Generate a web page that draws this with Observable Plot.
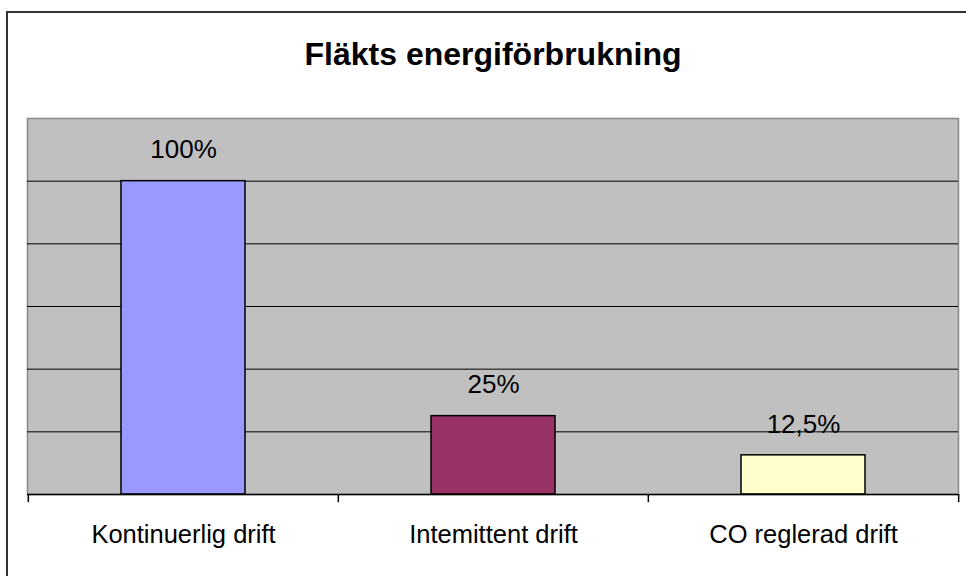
<!DOCTYPE html>
<html>
<head>
<meta charset="utf-8">
<script src="https://cdn.jsdelivr.net/npm/d3@7"></script>
<script src="https://cdn.jsdelivr.net/npm/@observablehq/plot@0.6"></script>
<style>
  html, body { margin: 0; padding: 0; background: #fff; overflow: hidden; }
  #wrap { position: relative; width: 966px; height: 576px; overflow: hidden; }
  #border { position: absolute; left: 6px; top: 11px; width: 2000px; height: 2000px;
            border-left: 2px solid #333; border-top: 2px solid #333; pointer-events: none; }
  #chart { position: absolute; left: 0; top: 0; }
</style>
</head>
<body>
<div id="wrap"><div id="chart"></div><div id="border"></div></div>
<script>
const title = "Fläkts energiförbrukning";
const categories = ["Kontinuerlig drift", "Intemittent drift", "CO reglerad drift"];
const values = [100, 25, 12.5];
const valueLabels = ["100%", "25%", "12,5%"];
const colors = ["#9999FF", "#993366", "#FFFFCC"];
const gridValues = [20, 40, 60, 80, 100];

const data = categories.map((c, i) => ({cat: c, value: values[i], label: valueLabels[i], color: colors[i]}));

const W = 966, H = 576, mL = 27, mR = 8, mT = 118, mB = 82;
const halfStep = (W - mL - mR) / categories.length / 2;

const chart = Plot.plot({
  width: W, height: H,
  marginLeft: mL, marginRight: mR, marginTop: mT, marginBottom: mB,
  style: {fontFamily: "'Liberation Sans', Arial, sans-serif", fontSize: "25px", color: "#000", background: "transparent", overflow: "visible"},
  x: {domain: categories, paddingInner: 0.6, paddingOuter: 0.3, label: null},
  y: {domain: [0, 120], axis: null},
  marks: [
    Plot.frame({fill: "#C0C0C0", stroke: "#888", strokeWidth: 1.5}),
    Plot.ruleY(gridValues, {stroke: "#000", strokeWidth: 1}),
    Plot.barY(data, {x: "cat", y: "value", fill: "color", stroke: "#000", strokeWidth: 1.5}),
    Plot.ruleY([0], {stroke: "#000", strokeWidth: 1.5}),
    Plot.ruleX(categories, {x: d => d, y1: 0, y2: -2.6, dx: -halfStep, stroke: "#000", strokeWidth: 1.5}),
    Plot.ruleX(categories.slice(-1), {x: d => d, y1: 0, y2: -2.6, dx: halfStep, stroke: "#000", strokeWidth: 1.5}),
    Plot.text(data, {x: "cat", y: "value", text: "label", dy: -31, lineAnchor: "middle", fontSize: 26, fill: "#000"}),
    Plot.axisX({tickSize: 0, tickPadding: 30, fontSize: 25.5, fill: "#000"}),
    Plot.text([title], {frameAnchor: "top", dy: -64, lineAnchor: "middle", fontSize: 32, fontWeight: "bold", fill: "#000"})
  ]
});
document.getElementById("chart").appendChild(chart);
</script>
</body>
</html>
